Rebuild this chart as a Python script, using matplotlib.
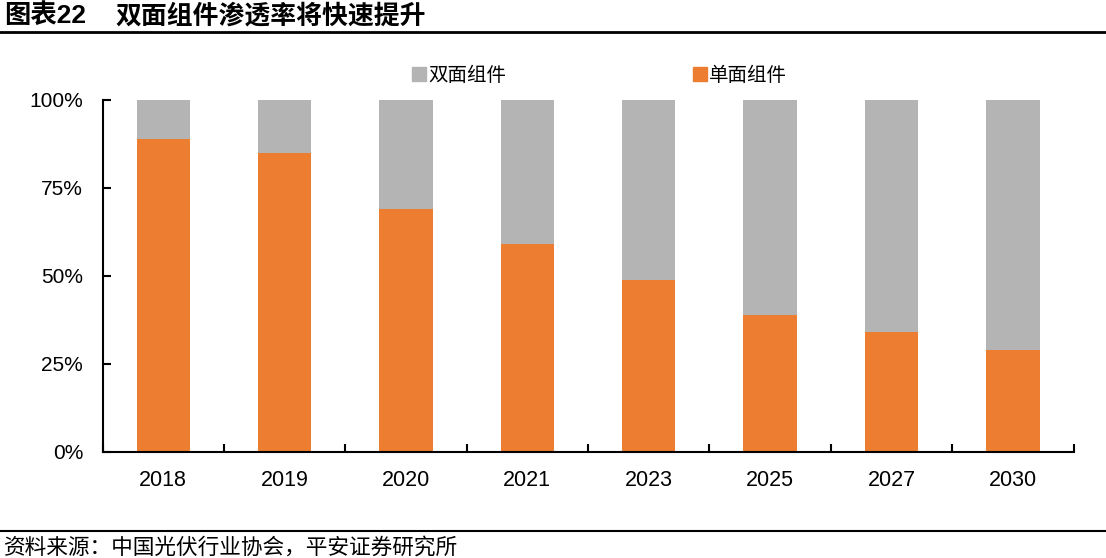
import matplotlib.pyplot as plt
import numpy as np
from matplotlib.lines import Line2D
from matplotlib.patches import Patch

plt.rcParams['font.family'] = ['Liberation Sans', 'Noto Sans CJK SC', 'DejaVu Sans']

# data
years = ['2018', '2019', '2020', '2021', '2023', '2025', '2027', '2030']
mono = np.array([89, 85, 69, 59, 49, 39, 34, 29]) / 100   # 单面组件
bifacial = 1 - mono                                       # 双面组件

orange = '#ED7D31'
gray = '#B4B4B4'

fig = plt.figure(figsize=(11.06, 5.58), dpi=100)
ax = fig.add_axes([0.0927, 0.19, 0.878, 0.6308])

x = np.arange(len(years))
w = 0.44
ax.bar(x, mono, w, color=orange, label='单面组件')
ax.bar(x, bifacial, w, bottom=mono, color=gray, label='双面组件')

ax.set_xlim(-0.5, len(years) - 0.5)
ax.set_ylim(0, 1)
ax.set_yticks([0, 0.25, 0.5, 0.75, 1.0])
ax.set_yticklabels(['0%', '25%', '50%', '75%', '100%'], fontsize=15)
ax.set_xticks(x)
ax.set_xticklabels(years, fontsize=15.5)
ax.set_xticks(np.arange(-0.5, len(years), 1), minor=True)
ax.tick_params(axis='x', which='major', length=0, pad=13)
ax.tick_params(axis='x', which='minor', direction='in', length=6, width=1.5)
ax.tick_params(axis='y', direction='in', length=6, width=1.5, pad=14)
for s in ['top', 'right']:
    ax.spines[s].set_visible(False)
for s in ['left', 'bottom']:
    ax.spines[s].set_linewidth(1.5)

handles = [Patch(color=gray, label='双面组件'), Patch(color=orange, label='单面组件')]
fig.legend(handles=handles, loc='center', bbox_to_anchor=(0.542, 0.864), ncol=2,
           frameon=False, fontsize=14, handlelength=0.75, handleheight=0.75,
           handletextpad=0.1, columnspacing=9.6)

# title, rules and source note
fig.text(0.004, 0.972, '图表22', fontsize=19, fontweight='bold', va='center', ha='left')
fig.text(0.104, 0.972, '双面组件渗透率将快速提升', fontsize=18.6, fontweight='bold',
         va='center', ha='left')
fig.add_artist(Line2D([0, 1], [0.942, 0.942], color='black', lw=2))
fig.add_artist(Line2D([0, 1], [0.048, 0.048], color='black', lw=1.5))
fig.text(0.004, 0.018, '资料来源：中国光伏行业协会，平安证券研究所', fontsize=15.6,
         style='italic', va='center', ha='left')

fig.savefig('out.png', dpi=100)
